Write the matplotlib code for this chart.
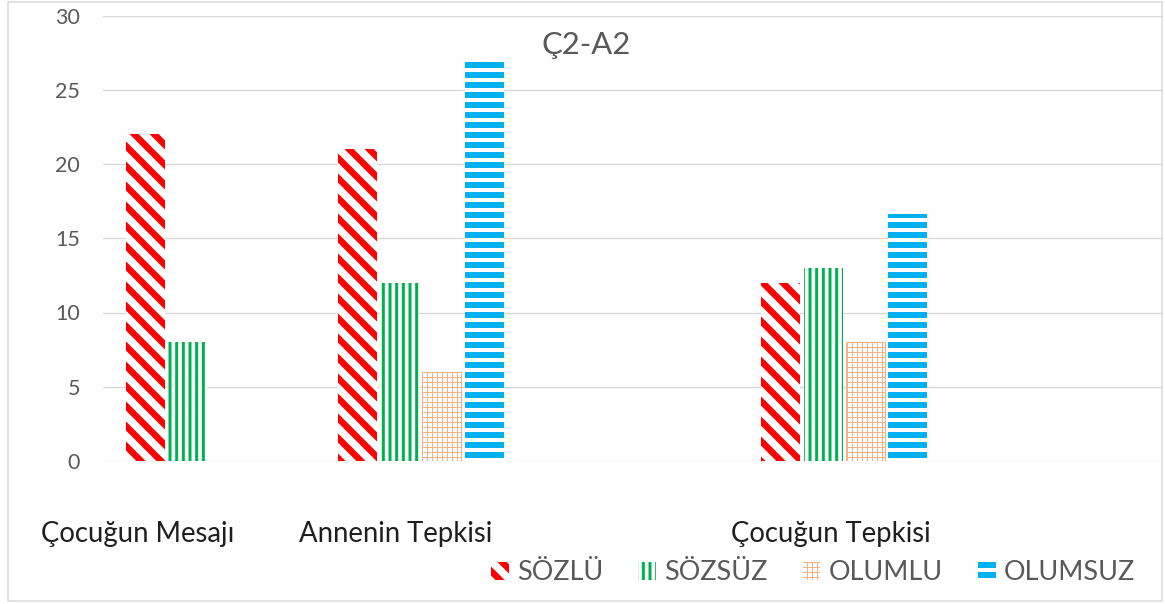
import matplotlib
matplotlib.use('Agg')
import matplotlib.pyplot as plt
from matplotlib.patches import Patch, Rectangle
import numpy as np

# ---------------- data ----------------
categories = ['Çocuğun Mesajı', 'Annenin Tepkisi', '', 'Çocuğun Tepkisi', '']
series_names = ['SÖZLÜ', 'SÖZSÜZ', 'OLUMLU', 'OLUMSUZ']
sozlu = [22, 21, 0, 12, 0]
sozsuz = [8, 12, 0, 13, 0]
olumlu = [0, 6, 0, 8, 0]
olumsuz = [0, 27, 0, 16.6, 0]
y_ticks = [0, 5, 10, 15, 20, 25, 30]
chart_title = 'Ç2-A2'

# ---------------- layout / style ----------------
W, H, DPI = 1165, 604, 120
def px(v):
    return v * 72.0 / DPI

label_shift = [-0.335, -0.118, 0.0, -0.066, 0.0]   # label offsets from category centre
bar_offsets = [-0.3, -0.1, 0.1, 0.3]
bar_width = 0.185
styles = [
    dict(color='#FF0000', hatch='\\\\', hlw=px(6.5)),
    dict(color='#00B050', hatch='|||', hlw=px(3.0)),
    dict(color='#F4B183', hatch='++++', hlw=px(1.0)),
    dict(color='#00B0F0', hatch='--', hlw=px(6.0)),
]

plt.rcParams['font.family'] = ['Lato', 'DejaVu Sans']

fig = plt.figure(figsize=(W / DPI, H / DPI), dpi=DPI)
ax = fig.add_axes([103 / W, (H - 461) / H, (1162 - 103) / W, (461 - 15.5) / H])

x = np.arange(len(categories))
series = [sozlu, sozsuz, olumlu, olumsuz]
handles = []
for vals, off, st, name in zip(series, bar_offsets, styles, series_names):
    bars = ax.bar(x + off, vals, width=bar_width, facecolor='white',
                  edgecolor=st['color'], hatch=st['hatch'], linewidth=0, zorder=3)
    for b in bars:
        if hasattr(b, 'set_hatch_linewidth'):
            b.set_hatch_linewidth(st['hlw'])
    if name == 'OLUMLU':
        for b in bars:
            b.set_linewidth(px(1.0))
    h = Patch(facecolor='white', edgecolor=st['color'], hatch=st['hatch'], linewidth=0, label=name)
    handles.append(h)

ax.set_xlim(-0.5, len(categories) - 0.5)
ax.set_ylim(0, 30)
ax.set_yticks(y_ticks)
ax.set_yticklabels([str(t) for t in y_ticks])
ax.yaxis.grid(True, color='#D9D9D9', linewidth=px(1.4), zorder=0)
ax.set_axisbelow(True)
for s in ax.spines.values():
    s.set_visible(False)
ax.tick_params(axis='y', length=0, pad=px(23), labelsize=px(21.5), labelcolor='#595959')

tick_pos = [xi + sh for xi, sh, c in zip(x, label_shift, categories) if c]
tick_lab = [c for c in categories if c]
ax.set_xticks(tick_pos)
ax.set_xticklabels(tick_lab)
ax.tick_params(axis='x', length=0, pad=px(60), labelsize=px(27.5), labelcolor='#1F1F1F')

fig.text(586 / W, 1 - 45 / H, chart_title, ha='center', va='center',
         fontsize=px(31), color='#595959')

leg = fig.legend(handles=handles, loc='center', bbox_to_anchor=(813 / W, 1 - 573 / H),
                 ncol=4, frameon=False, fontsize=px(27), handlelength=0.66, handleheight=0.66,
                 handletextpad=0.3, columnspacing=1.3, labelcolor='#595959')
for p, st in zip(leg.get_patches(), styles):
    if hasattr(p, 'set_hatch_linewidth'):
        p.set_hatch_linewidth(st['hlw'])

fig.patches.append(Rectangle((8 / W, 3 / H), (1162 - 8) / W, (602 - 3) / H,
                             transform=fig.transFigure, fill=False,
                             edgecolor='#D9D9D9', linewidth=px(1.5)))

fig.savefig('out.png', dpi=DPI, facecolor='white')
